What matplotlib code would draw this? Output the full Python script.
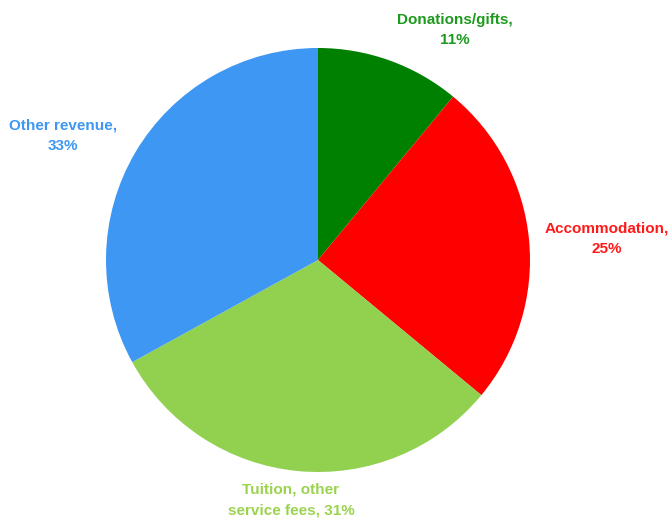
import matplotlib
matplotlib.use('Agg')
import matplotlib.pyplot as plt

# Revenue share data
categories = ['Donations/gifts', 'Accommodation', 'Tuition, other service fees', 'Other revenue']
shares = [11, 25, 31, 33]
colors = ['#008000', '#FF0000', '#92D050', '#3D97F3']
label_colors = ['#1E9A1E', '#FF1A1A', '#9BD34F', '#3D97F3']
label_texts = ['Donations/gifts,\n11%', 'Accommodation,\n25%', 'Tuition, other\nservice fees, 31%', 'Other revenue,\n33%']
# label centres in pixels (x, y from top)
label_pos = [(455, 30), (607, 239), (291, 500), (63, 136)]

W, H = 672, 521
fig = plt.figure(figsize=(W / 100, H / 100), dpi=100)

cx, cy, r = 318, 260, 212
ax = fig.add_axes([(cx - r) / W, (H - cy - r) / H, 2 * r / W, 2 * r / H])
ax.pie(shares, colors=colors, startangle=90, counterclock=False,
       wedgeprops=dict(linewidth=0))
ax.set_xlim(-1, 1)
ax.set_ylim(-1, 1)
ax.set_aspect('equal')
ax.axis('off')

for txt, col, (x, y) in zip(label_texts, label_colors, label_pos):
    fig.text(x / W, 1 - y / H, txt, color=col, ha='center', va='center',
             fontsize=11, fontweight='bold', family='Liberation Sans',
             linespacing=1.55)

fig.savefig('out.png', dpi=100)
